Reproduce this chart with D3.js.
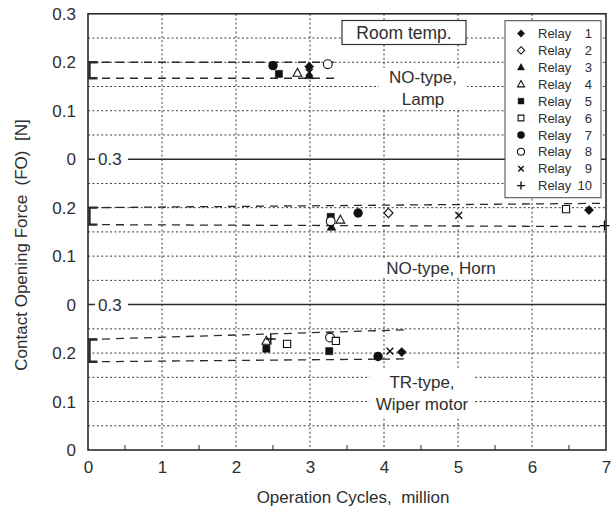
<!DOCTYPE html>
<html>
<head>
<meta charset="utf-8">
<script src="https://cdn.jsdelivr.net/npm/d3@7/dist/d3.min.js"></script>
<style>
  html, body { margin: 0; padding: 0; background: #fff; }
  svg { display: block; font-family: "Liberation Sans", Arial, Helvetica, sans-serif; }
</style>
</head>
<body>
<svg id="chart" width="613" height="515"></svg>
<script>
// Operation cycles (million) on the x axis
const xTicks = [0, 1, 2, 3, 4, 5, 6, 7];
const xMinorTicks = [0.5, 1.5, 2.5, 3.5, 4.5, 5.5, 6.5];
// Each stacked panel spans 0 .. 0.3 N
const panelTicks = [0, 0.1, 0.2];
const gridSteps = [0.05, 0.1, 0.15, 0.2, 0.25];

// Panels from top to bottom
const panelNames = ["NO-type, Lamp", "NO-type, Horn", "TR-type, Wiper motor"];

const relayNames = ["1", "2", "3", "4", "5", "6", "7", "8", "9", "10"];
const relayShapes = ["diamond", "diamond", "triangle", "triangle", "square", "square", "circle", "circle", "cross", "plus"];
const relayFilled = [true, false, true, false, true, false, true, false, true, true];

// [relay, cycles (million), force (N)]
const lampPoints = [
  [7, 2.50, 0.193], [5, 2.58, 0.176], [4, 2.83, 0.178], [3, 2.99, 0.173],
  [9, 2.99, 0.179], [1, 2.99, 0.191], [8, 3.24, 0.196]
];
const hornPoints = [
  [3, 3.29, 0.160], [5, 3.28, 0.181], [8, 3.28, 0.172], [4, 3.41, 0.175],
  [7, 3.65, 0.189], [2, 4.06, 0.189], [9, 5.01, 0.184], [6, 6.46, 0.197],
  [1, 6.77, 0.195], [10, 6.98, 0.163]
];
const wiperPoints = [
  [5, 2.41, 0.209], [4, 2.41, 0.225], [10, 2.47, 0.229], [6, 2.69, 0.219],
  [5, 3.26, 0.204], [8, 3.27, 0.232], [6, 3.35, 0.225], [7, 3.92, 0.193],
  [9, 4.08, 0.204], [1, 4.24, 0.202]
];

// Scatter band: [cycles, upper, lower] at start and end
const lampBand = [[0, 0.200, 0.167], [3.4, 0.200, 0.167]];
const hornBand = [[0, 0.200, 0.165], [7.0, 0.209, 0.161]];
const wiperBand = [[0, 0.228, 0.182], [4.3, 0.248, 0.188]];

const panelPoints = [lampPoints, hornPoints, wiperPoints];
const panelBands = [lampBand, hornBand, wiperBand];

const svg = d3.select("#chart");
const textColor = "#2e2e2e";
const lineColor = "#2b2b2b";

const plotLeft = 88, plotRight = 606, plotTop = 13.8, plotBottom = 450;
const x = d3.scaleLinear().domain([0, 7]).range([plotLeft, plotRight]);
// stacked scale: panel index 0 (top) .. 2 (bottom)
const yStack = d3.scaleLinear().domain([0, 0.9]).range([plotBottom, plotTop]);
const y = (panel, v) => yStack((2 - panel) * 0.3 + v);

// ---- grid ----
const grid = svg.append("g").attr("stroke", "#3a3a3a").attr("stroke-width", 1)
  .attr("stroke-dasharray", "2,2.4").attr("fill", "none");
xTicks.filter(t => t > 0 && t < 7).forEach(t => {
  grid.append("line").attr("x1", x(t)).attr("x2", x(t)).attr("y1", plotTop).attr("y2", plotBottom);
});
[0, 1, 2].forEach(p => {
  gridSteps.forEach(v => {
    grid.append("line").attr("x1", plotLeft).attr("x2", plotRight).attr("y1", y(p, v)).attr("y2", y(p, v));
  });
});

// minor ticks along the bottom
xMinorTicks.forEach(t => {
  svg.append("line").attr("x1", x(t)).attr("x2", x(t)).attr("y1", plotBottom).attr("y2", plotBottom - 5)
    .attr("stroke", lineColor).attr("stroke-width", 1);
});

// ---- panel separators with inset "0.3" ----
[1, 2].forEach(p => {
  const yy = y(p, 0.3);
  svg.append("line").attr("x1", plotLeft).attr("x2", plotRight).attr("y1", yy).attr("y2", yy)
    .attr("stroke", lineColor).attr("stroke-width", 1.5);
  svg.append("rect").attr("x", plotLeft + 7).attr("y", yy - 8).attr("width", 33).attr("height", 16).attr("fill", "#fff");
  svg.append("text").attr("x", plotLeft + 10).attr("y", yy).attr("dy", "0.36em")
    .attr("font-size", 17).attr("fill", textColor).text(d3.format(".1f")(0.3));
});

// ---- scatter bands ----
panelBands.forEach((band, p) => {
  const g = svg.append("g").attr("fill", "none").attr("stroke", lineColor);
  const upper = d3.line().x(d => x(d[0])).y(d => y(p, d[1]));
  const lower = d3.line().x(d => x(d[0])).y(d => y(p, d[2]));
  g.append("path").attr("d", upper(band)).attr("stroke-width", 1.3).attr("stroke-dasharray", "8,6");
  g.append("path").attr("d", lower(band)).attr("stroke-width", 1.3).attr("stroke-dasharray", "8,6");
  const yt = y(p, band[0][1]), yb = y(p, band[0][2]);
  const bx = x(band[0][0]) + 1.5;
  g.append("path").attr("d", `M${bx + 8},${yt} H${bx} V${yb} H${bx + 8}`)
    .attr("stroke-width", 2.4).attr("stroke-linejoin", "miter");
});

// ---- panel labels on white ----
function label(lines, cx, cy, lh, bw, bh) {
  svg.append("rect").attr("x", cx - bw / 2).attr("y", cy - bh / 2).attr("width", bw).attr("height", bh).attr("fill", "#fff");
  lines.forEach((s, i) => {
    svg.append("text").attr("x", cx).attr("y", cy + (i - (lines.length - 1) / 2) * lh).attr("dy", "0.36em")
      .attr("text-anchor", "middle").attr("font-size", 17).attr("fill", textColor).text(s);
  });
}
label(["NO-type,", "Lamp"], 423, 88, 22, 88, 40);
label([panelNames[1]], 441, 268, 0, 118, 18);
label(["TR-type,", "Wiper motor"], 422, 393, 22, 104, 46);

// ---- markers ----
function markerPath(shape, s) {
  const r = 4.6 * s;
  switch (shape) {
    case "diamond": return `M0,${-r}L${r},0L0,${r}L${-r},0Z`;
    case "triangle": return `M0,${-r}L${r * 0.95},${r * 0.72}L${-r * 0.95},${r * 0.72}Z`;
    case "square": { const h = 3.6 * s; return `M${-h},${-h}H${h}V${h}H${-h}Z`; }
    case "cross": { const h = 3.4 * s; return `M${-h},${-h}L${h},${h}M${-h},${h}L${h},${-h}`; }
    case "plus": { const h = 5 * s; return `M${-h},0H${h}M0,${-h}V${h}`; }
  }
  return null;
}
function drawMarker(g, relayIdx, cx, cy, s) {
  const shape = relayShapes[relayIdx];
  const filled = relayFilled[relayIdx];
  if (shape === "circle") {
    g.append("circle").attr("cx", cx).attr("cy", cy).attr("r", (filled ? 4.7 : 4.4) * s)
      .attr("fill", filled ? "#111" : "#fff").attr("stroke", "#111").attr("stroke-width", filled ? 0 : 1.1);
  } else if (shape === "cross" || shape === "plus") {
    g.append("path").attr("d", markerPath(shape, s)).attr("transform", `translate(${cx},${cy})`)
      .attr("fill", "none").attr("stroke", "#111").attr("stroke-width", 1.4);
  } else {
    g.append("path").attr("d", markerPath(shape, s)).attr("transform", `translate(${cx},${cy})`)
      .attr("fill", filled ? "#111" : "#fff").attr("stroke", "#111").attr("stroke-width", filled ? 0.5 : 1.1);
  }
}
const markers = svg.append("g");
panelPoints.forEach((pts, p) => {
  pts.forEach(d => drawMarker(markers, d[0] - 1, x(d[1]), y(p, d[2]), 1));
});

// ---- frame ----
svg.append("rect").attr("x", plotLeft).attr("y", plotTop).attr("width", plotRight - plotLeft).attr("height", plotBottom - plotTop)
  .attr("fill", "none").attr("stroke", lineColor).attr("stroke-width", 1.6);

// ---- "Room temp." box ----
svg.append("rect").attr("x", 342).attr("y", 20.5).attr("width", 124).attr("height", 24)
  .attr("fill", "#fff").attr("stroke", "#333").attr("stroke-width", 1.2);
svg.append("text").attr("x", 404).attr("y", 32.5).attr("dy", "0.36em").attr("text-anchor", "middle")
  .attr("font-size", 17.5).attr("fill", textColor).text("Room temp.");

// ---- legend ----
const lg = svg.append("g");
lg.append("rect").attr("x", 505).attr("y", 20.7).attr("width", 96).attr("height", 177)
  .attr("fill", "#fff").attr("stroke", "#444").attr("stroke-width", 1);
relayNames.forEach((n, i) => {
  const ly = 33.5 + i * 16.9;
  drawMarker(lg, i, 521, ly, 0.8);
  lg.append("text").attr("x", 538).attr("y", ly).attr("dy", "0.36em").attr("font-size", 13)
    .attr("fill", textColor).text("Relay");
  lg.append("text").attr("x", 592).attr("y", ly).attr("dy", "0.36em").attr("font-size", 13)
    .attr("text-anchor", "end").attr("fill", textColor).text(n);
});

// ---- y tick labels ----
const yLabels = svg.append("g").attr("font-size", 17).attr("fill", textColor).attr("text-anchor", "end");
[0, 1, 2].forEach(p => {
  panelTicks.forEach(v => {
    yLabels.append("text").attr("x", 76).attr("y", y(p, v)).attr("dy", "0.36em").text(d3.format("")(v));
  });
});
yLabels.append("text").attr("x", 76).attr("y", y(0, 0.3)).attr("dy", "0.36em").text("0.3");

// ---- x axis labels ----
const xAxis = d3.axisBottom(x).tickValues(xTicks).tickSize(0).tickPadding(0).tickFormat(d3.format("d"));
const xg = svg.append("g").attr("transform", `translate(0,${plotBottom + 11})`).call(xAxis);
xg.select(".domain").remove();
xg.selectAll("text").attr("font-size", 17).attr("fill", textColor)
  .attr("font-family", "Liberation Sans, Arial, sans-serif").attr("dy", "0.71em");

// ---- axis titles ----
svg.append("text").attr("x", 353).attr("y", 503).attr("text-anchor", "middle").attr("font-size", 17)
  .attr("fill", textColor).attr("xml:space", "preserve").style("white-space", "pre")
  .text("Operation Cycles,  million");
svg.append("text").attr("transform", "translate(27,245) rotate(-90)").attr("text-anchor", "middle")
  .attr("font-size", 17).attr("fill", textColor).attr("xml:space", "preserve")
  .style("white-space", "pre").text("Contact Opening Force  (FO)  [N]");
</script>
</body>
</html>
